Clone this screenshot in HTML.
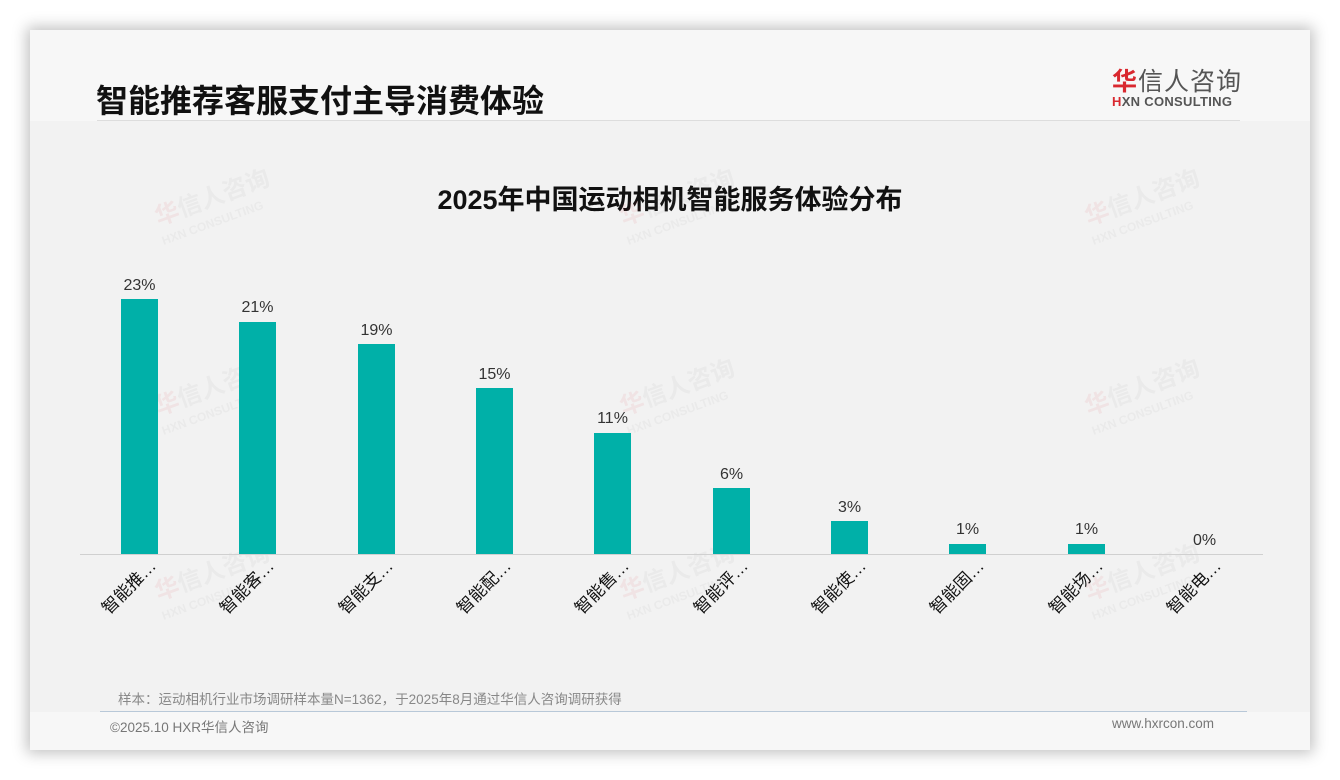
<!DOCTYPE html>
<html><head><meta charset="utf-8"><style>
html,body{margin:0;padding:0;width:1340px;height:780px;background:#fff;overflow:hidden;font-family:"Liberation Sans","Noto Sans CJK SC",sans-serif}
.card{position:absolute;left:30px;top:30px;width:1280px;height:720px;background:#f7f7f7;box-shadow:0 0 14px 3px rgba(0,0,0,0.25)}
.panel{position:absolute;left:30px;top:121px;width:1280px;height:591px;background:#f2f2f2}
.title{position:absolute;left:96px;top:76px;font-size:32px;font-weight:bold;color:#111}
.hline{position:absolute;left:97px;top:120px;width:1143px;height:1px;background:#ddd}
.logo1{position:absolute;left:1112px;top:62px;font-size:25px;color:#555;letter-spacing:1px}
.logo1 b{color:#d9282f;font-weight:bold}
.logo2{position:absolute;left:1112px;top:94px;font-size:13px;font-weight:bold;color:#555;letter-spacing:0.3px}
.ctitle{position:absolute;left:0;width:1340px;top:178px;text-align:center;font-size:27px;font-weight:bold;color:#111}
.note{position:absolute;left:118px;top:688px;font-size:13.5px;color:#888}
.fline{position:absolute;left:100px;top:711px;width:1147px;height:1px;background:#b8c8d8}
.copy{position:absolute;left:110px;top:716px;font-size:13.5px;color:#777}
.web{position:absolute;left:1112px;top:716px;font-size:13.5px;color:#777}
</style></head><body>
<div class="card"></div>
<div class="panel"></div>
<div class="title">智能推荐客服支付主导消费体验</div>
<div class="hline"></div>
<div class="logo1"><b>华</b>信人咨询</div>
<div class="logo2"><span style="color:#d9282f">H</span>XN CONSULTING</div>
<div class="ctitle">2025年中国运动相机智能服务体验分布</div>
<svg width="1340" height="780" style="position:absolute;left:0;top:0" font-family="Liberation Sans, Noto Sans CJK SC, sans-serif">
<g opacity="0.07" font-weight="bold">
<g transform="translate(215,205) rotate(-20)"><text x="-60" y="0" font-size="24" fill="#d9282f">华<tspan fill="#888">信人咨询</tspan></text><text x="-62" y="20" font-size="12" fill="#888">HXN CONSULTING</text></g>
<g transform="translate(680,205) rotate(-20)"><text x="-60" y="0" font-size="24" fill="#d9282f">华<tspan fill="#888">信人咨询</tspan></text><text x="-62" y="20" font-size="12" fill="#888">HXN CONSULTING</text></g>
<g transform="translate(1145,205) rotate(-20)"><text x="-60" y="0" font-size="24" fill="#d9282f">华<tspan fill="#888">信人咨询</tspan></text><text x="-62" y="20" font-size="12" fill="#888">HXN CONSULTING</text></g>
<g transform="translate(215,395) rotate(-20)"><text x="-60" y="0" font-size="24" fill="#d9282f">华<tspan fill="#888">信人咨询</tspan></text><text x="-62" y="20" font-size="12" fill="#888">HXN CONSULTING</text></g>
<g transform="translate(680,395) rotate(-20)"><text x="-60" y="0" font-size="24" fill="#d9282f">华<tspan fill="#888">信人咨询</tspan></text><text x="-62" y="20" font-size="12" fill="#888">HXN CONSULTING</text></g>
<g transform="translate(1145,395) rotate(-20)"><text x="-60" y="0" font-size="24" fill="#d9282f">华<tspan fill="#888">信人咨询</tspan></text><text x="-62" y="20" font-size="12" fill="#888">HXN CONSULTING</text></g>
<g transform="translate(215,580) rotate(-20)"><text x="-60" y="0" font-size="24" fill="#d9282f">华<tspan fill="#888">信人咨询</tspan></text><text x="-62" y="20" font-size="12" fill="#888">HXN CONSULTING</text></g>
<g transform="translate(680,580) rotate(-20)"><text x="-60" y="0" font-size="24" fill="#d9282f">华<tspan fill="#888">信人咨询</tspan></text><text x="-62" y="20" font-size="12" fill="#888">HXN CONSULTING</text></g>
<g transform="translate(1145,580) rotate(-20)"><text x="-60" y="0" font-size="24" fill="#d9282f">华<tspan fill="#888">信人咨询</tspan></text><text x="-62" y="20" font-size="12" fill="#888">HXN CONSULTING</text></g>
</g>
<line x1="80" y1="554.5" x2="1263" y2="554.5" stroke="#d0d0d0" stroke-width="1"/>
<g fill="#00b0a8">
<rect x="121" y="299" width="37" height="255"/>
<rect x="239" y="322" width="37" height="232"/>
<rect x="358" y="344" width="37" height="210"/>
<rect x="476" y="388" width="37" height="166"/>
<rect x="594" y="433" width="37" height="121"/>
<rect x="713" y="488" width="37" height="66"/>
<rect x="831" y="521" width="37" height="33"/>
<rect x="949" y="544" width="37" height="10"/>
<rect x="1068" y="544" width="37" height="10"/>
</g>
<g font-size="16" fill="#333" text-anchor="middle">
<text x="139.5" y="290">23%</text><text x="257.5" y="312">21%</text><text x="376.5" y="335">19%</text>
<text x="494.5" y="379">15%</text><text x="612.5" y="423">11%</text><text x="731.5" y="479">6%</text>
<text x="849.5" y="512">3%</text><text x="967.5" y="534">1%</text><text x="1086.5" y="534">1%</text><text x="1204.5" y="545">0%</text>
</g>
<g font-size="17" fill="#111" text-anchor="end">
<text transform="translate(157,567) rotate(-45)">智能推…</text>
<text transform="translate(275,567) rotate(-45)">智能客…</text>
<text transform="translate(394,567) rotate(-45)">智能支…</text>
<text transform="translate(512,567) rotate(-45)">智能配…</text>
<text transform="translate(630,567) rotate(-45)">智能售…</text>
<text transform="translate(749,567) rotate(-45)">智能评…</text>
<text transform="translate(867,567) rotate(-45)">智能使…</text>
<text transform="translate(985,567) rotate(-45)">智能固…</text>
<text transform="translate(1104,567) rotate(-45)">智能场…</text>
<text transform="translate(1222,567) rotate(-45)">智能电…</text>
</g>
</svg>
<div class="note">样本：运动相机行业市场调研样本量N=1362，于2025年8月通过华信人咨询调研获得</div>
<div class="fline"></div>
<div class="copy">©2025.10 HXR华信人咨询</div>
<div class="web">www.hxrcon.com</div>
</body></html>
